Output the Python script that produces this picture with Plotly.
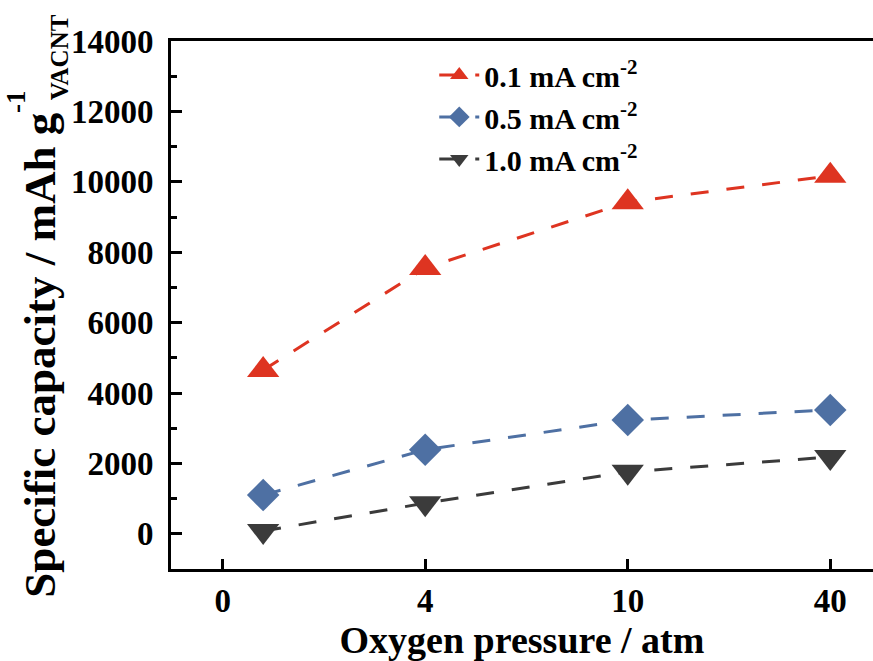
import plotly.graph_objects as go

# Oxygen pressure (atm) and where each sits on the category-like x axis
pressure_atm = [1, 4, 10, 40]
axis_pos = [0.2, 1, 2, 3]
tick_pos = [0, 1, 2, 3]
tick_text = ["0", "4", "10", "40"]

# Specific capacity (mAh g^-1 VACNT) at each current density
cap_01 = [4650, 7550, 9420, 10170]
cap_05 = [1100, 2390, 3230, 3520]
cap_10 = [80, 870, 1760, 2180]

series = [
    ("0.1 mA cm<sup>-2</sup>", cap_01, "#DE3421", "triangle-up", 28),
    ("0.5 mA cm<sup>-2</sup>", cap_05, "#4E70A3", "diamond", 25),
    ("1.0 mA cm<sup>-2</sup>", cap_10, "#3B3B3B", "triangle-down", 28),
]

FONT = "Liberation Serif"

fig = go.Figure()
for i, (name, vals, color, sym, size) in enumerate(series):
    fig.add_trace(go.Scatter(
        x=axis_pos, y=vals, name=name, mode="lines+markers",
        customdata=pressure_atm,
        legendgroup=f"g{i}",
        line=dict(color=color, width=3, dash="18px,18px"),
        marker=dict(symbol=sym, size=size, color=color, line=dict(width=0)),
    ))

fig.update_layout(
    width=873, height=661,
    margin=dict(l=171, r=0, t=41, b=92),
    paper_bgcolor="white", plot_bgcolor="white",
    font=dict(family=FONT, color="black"),
    showlegend=True,
    legend=dict(
        x=0.375, y=0.985, xanchor="left", yanchor="top",
        bgcolor="rgba(0,0,0,0)", borderwidth=0,
        font=dict(family=FONT, size=30, weight="bold", color="black"),
        tracegroupgap=0, itemwidth=40,
    ),
    xaxis=dict(
        range=[-0.255, 3.211], tickmode="array", tickvals=tick_pos, ticktext=tick_text,
        showline=True, linecolor="black", linewidth=3, mirror=True,
        ticks="inside", ticklen=10, tickwidth=3, tickcolor="black",
        tickfont=dict(family=FONT, size=33, weight="bold"),
        showgrid=False, zeroline=False,
        title=dict(text="Oxygen pressure / atm", standoff=10,
                   font=dict(family=FONT, size=38, weight="bold")),
    ),
    yaxis=dict(
        range=[-1000, 14000], tickmode="linear", tick0=0, dtick=2000, tickformat="d",
        showline=True, linecolor="black", linewidth=3,
        ticks="inside", ticklen=11, tickwidth=3, tickcolor="black",
        minor=dict(ticks="inside", dtick=1000, tick0=0, ticklen=6, tickwidth=3, tickcolor="black"),
        tickfont=dict(family=FONT, size=33, weight="bold"),
        ticklabelstandoff=8,
        showgrid=False, zeroline=False,
    ),
)

# Rotated y-axis title with stacked superscript/subscript on the unit
fig.add_annotation(
    text="Specific capacity / mAh g", xref="paper", yref="paper",
    x=-0.1866, y=-0.059, xanchor="center", yanchor="bottom", textangle=-90,
    showarrow=False, font=dict(family=FONT, size=45, weight="bold", color="black"),
)
fig.add_annotation(
    text="-1", xref="paper", yref="paper",
    x=-0.221, y=0.886, xanchor="center", yanchor="middle", textangle=-90,
    showarrow=False, font=dict(family=FONT, size=27, weight="bold", color="black"),
)
fig.add_annotation(
    text="VACNT", xref="paper", yref="paper",
    x=-0.1595, y=0.884, xanchor="center", yanchor="bottom", textangle=-90,
    showarrow=False, font=dict(family=FONT, size=25, weight="bold", color="black"),
)

fig.write_html("out.html")
